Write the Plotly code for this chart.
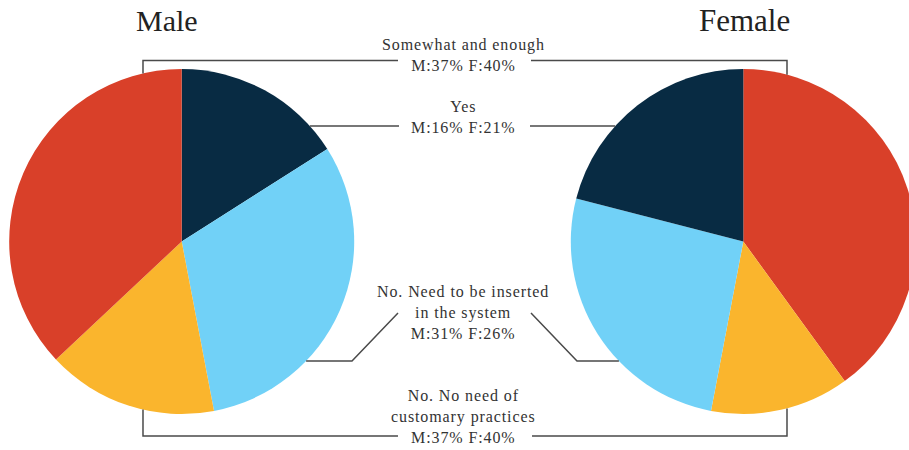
import math
import plotly.graph_objects as go

# Survey answers, same order for both groups
categories = [
    "Yes",
    "No. Need to be inserted in the system",
    "No. No need of customary practices",
    "Somewhat and enough",
]
male_pct = [16, 31, 16, 37]
female_pct = [21, 26, 13, 40]
slice_colors = ["#082b43", "#71d1f7", "#fab52d", "#d94029"]

# Text blocks placed between the two pies
label_blocks = [
    ["Somewhat and enough", "M:37% F:40%"],
    ["Yes", "M:16% F:21%"],
    ["No. Need to be inserted", "in the system", "M:31% F:26%"],
    ["No. No need of", "customary practices", "M:37% F:40%"],
]

W, H = 925, 450
R = 172.5
CY = 241.5
MALE_CX, FEMALE_CX = 181.7, 743.3


def px(x):
    return x / W


def py(y):
    return (H - y) / H


def pie_domain(cx):
    return dict(x=[px(cx - R), px(cx + R)], y=[py(CY + R), py(CY - R)])


def edge_x(cx, y, side):
    d = math.sqrt(R * R - (y - CY) ** 2)
    return cx + side * d


def edge_y(cx, x, side):
    d = math.sqrt(R * R - (x - cx) ** 2)
    return CY + side * d


fig = go.Figure()
# Male: slices run clockwise from 12 o'clock
fig.add_trace(go.Pie(
    labels=categories, values=male_pct, sort=False, direction="clockwise",
    rotation=0, marker=dict(colors=slice_colors, line=dict(width=0)),
    textinfo="none", hoverinfo="label+percent", domain=pie_domain(MALE_CX),
    showlegend=False,
))
# Female: mirrored, so the category order is reversed
fig.add_trace(go.Pie(
    labels=categories[::-1], values=female_pct[::-1], sort=False,
    direction="clockwise", rotation=0,
    marker=dict(colors=slice_colors[::-1], line=dict(width=0)),
    textinfo="none", hoverinfo="label+percent", domain=pie_domain(FEMALE_CX),
    showlegend=False,
))

# Leader lines (pixel paths converted to paper coordinates)
LX, RX = 143, 787
TXT_L, TXT_R = 398, 531
paths = [
    [(LX, edge_y(MALE_CX, LX, -1)), (LX, 60.5), (TXT_L, 60.5)],
    [(TXT_R, 60.5), (RX, 60.5), (RX, edge_y(FEMALE_CX, RX, -1))],
    [(edge_x(MALE_CX, 126, 1), 126), (TXT_L + 1, 126)],
    [(TXT_R - 1, 126), (edge_x(FEMALE_CX, 126, -1), 126)],
    [(edge_x(MALE_CX, 361, 1), 361), (352, 361), (398, 313)],
    [(531, 313), (577, 361), (edge_x(FEMALE_CX, 361, -1), 361)],
    [(LX, edge_y(MALE_CX, LX, 1)), (LX, 436), (TXT_L, 436)],
    [(TXT_R + 1, 436), (RX, 436), (RX, edge_y(FEMALE_CX, RX, 1))],
]
for pts in paths:
    d = "M " + " L ".join(f"{px(x):.5f},{py(y):.5f}" for x, y in pts)
    fig.add_shape(type="path", path=d, xref="paper", yref="paper",
                  line=dict(color="#4a4a4a", width=1.5))

serif = "Liberation Serif"
block_y = [55, 117.5, 312.5, 416]
for lines, y in zip(label_blocks, block_y):
    spaced = [f'<span style="letter-spacing:0.9px">{t}</span>' for t in lines]
    fig.add_annotation(text="<br>".join(spaced), x=px(463), y=py(y),
                       xref="paper", yref="paper", xanchor="center",
                       yanchor="middle", align="center", showarrow=False,
                       font=dict(family=serif, size=16, color="#333333"))

fig.add_annotation(text="Male", x=px(167), y=py(21), xref="paper", yref="paper",
                   xanchor="center", yanchor="middle", showarrow=False,
                   font=dict(family=serif, size=30, color="#222222"))
fig.add_annotation(text="Female", x=px(744), y=py(21), xref="paper", yref="paper",
                   xanchor="center", yanchor="middle", showarrow=False,
                   font=dict(family=serif, size=31, color="#222222"))

fig.update_layout(
    width=W, height=H, margin=dict(l=0, r=0, t=0, b=0),
    paper_bgcolor="white", plot_bgcolor="white",
)

fig.write_html(
    "out.html",
    post_script="document.documentElement.style.overflow='hidden';"
                "document.body.style.overflow='hidden';document.body.style.margin='0';",
)
